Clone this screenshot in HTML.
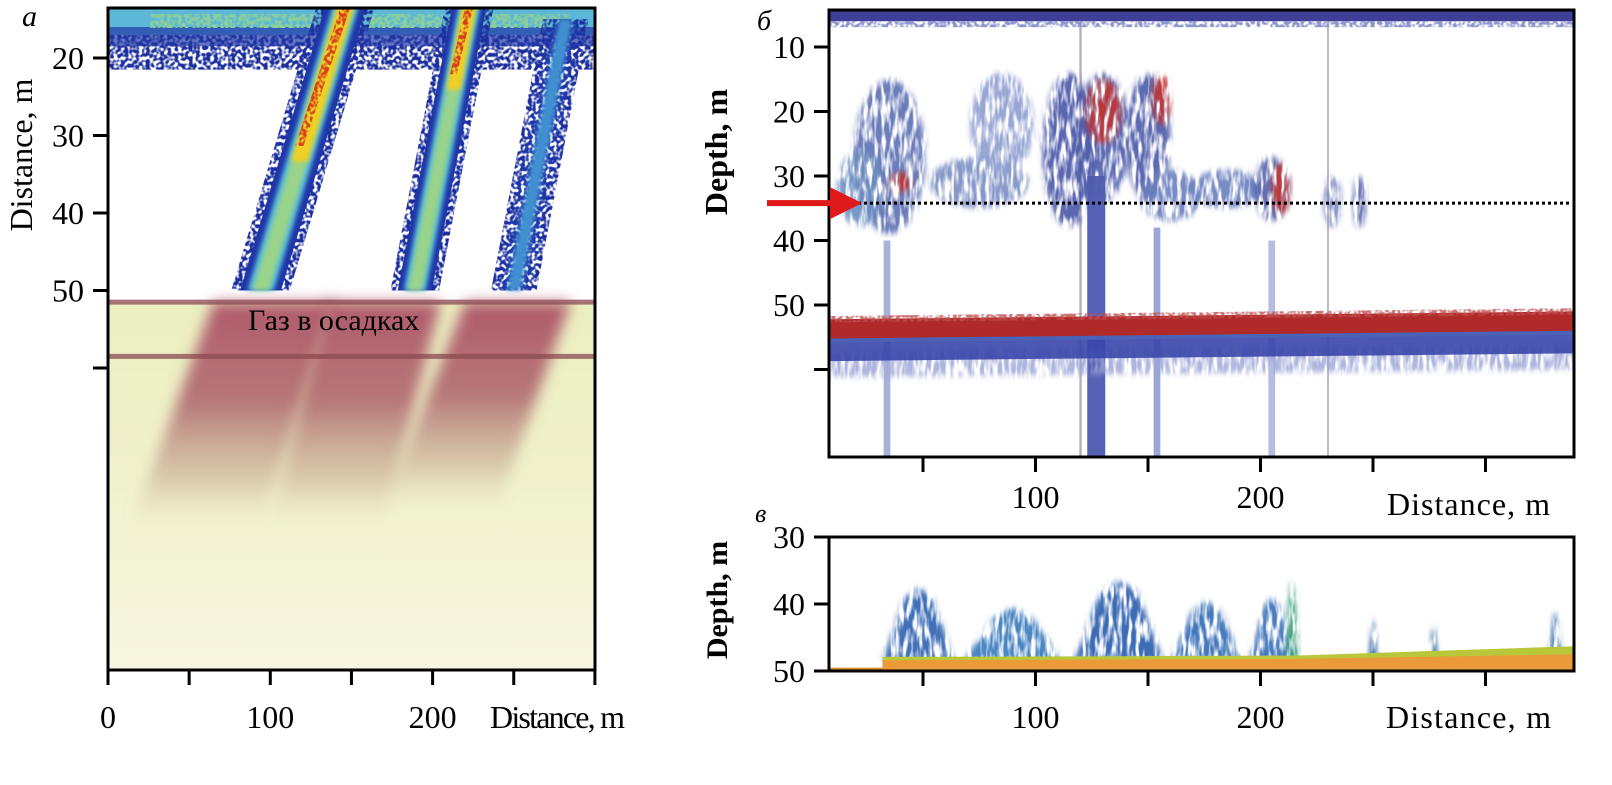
<!DOCTYPE html>
<html><head><meta charset="utf-8"><title>Echograms a, б, в</title>
<style>
html,body{margin:0;padding:0;background:#fff;}
svg{display:block;font-family:"Liberation Serif","Noto Serif CJK SC",serif;}
</style></head>
<body>
<svg id="fig" width="1612" height="785" viewBox="0 0 1612 785" xmlns="http://www.w3.org/2000/svg">
<defs>
  <filter id="speck" x="-10%" y="-10%" width="120%" height="120%">
    <feTurbulence type="fractalNoise" baseFrequency="0.28" numOctaves="1" seed="4" result="n"/>
    <feColorMatrix in="n" type="matrix" values="0 0 0 0 0 0 0 0 0 0 0 0 0 0 0 5 0 0 0 -1.9" result="m"/>
    <feComposite in="SourceGraphic" in2="m" operator="in"/>
  </filter>
  <filter id="haze" x="-20%" y="-20%" width="140%" height="140%">
    <feGaussianBlur stdDeviation="3" result="b"/>
    <feTurbulence type="fractalNoise" baseFrequency="0.22 0.05" numOctaves="2" seed="9" result="n"/>
    <feColorMatrix in="n" type="matrix" values="0 0 0 0 0 0 0 0 0 0 0 0 0 0 0 3.5 0 0 0 -1.1" result="m"/>
    <feComposite in="b" in2="m" operator="in"/>
  </filter>
  <filter id="soft" x="-20%" y="-20%" width="140%" height="140%"><feGaussianBlur stdDeviation="7"/></filter>
  <filter id="soft2" x="-20%" y="-20%" width="140%" height="140%"><feGaussianBlur stdDeviation="2"/></filter>
  <linearGradient id="sedGrad" x1="0" y1="0" x2="0" y2="1">
    <stop offset="0" stop-color="#ecefc0"/><stop offset="0.5" stop-color="#f0f1cc"/><stop offset="1" stop-color="#f8f6e2"/>
  </linearGradient>
  <linearGradient id="pinkGrad" x1="0" y1="0" x2="0" y2="1">
    <stop offset="0" stop-color="#b05a6c" stop-opacity="1"/><stop offset="0.45" stop-color="#b06a70" stop-opacity="0.9"/><stop offset="0.8" stop-color="#b89080" stop-opacity="0.4"/><stop offset="1" stop-color="#cfc09a" stop-opacity="0"/>
  </linearGradient>
  <clipPath id="clipA"><rect x="108" y="8" width="487" height="662"/></clipPath>
  <clipPath id="clipB"><rect x="829" y="10" width="745" height="447"/></clipPath>
  <clipPath id="clipC"><rect x="829" y="537" width="745" height="134"/></clipPath>
</defs>

<!-- PANEL A -->
<g>
  <g clip-path="url(#clipA)">
    <rect x="108" y="8" width="487" height="662" fill="#fff"/>
    <rect id="aSed" fill="url(#sedGrad)"/>
    <g id="aGas"></g>
    <g id="aLines"></g>
    <g id="aTop"></g>
    <g id="aPlumes"></g>
  </g>
  <rect x="108" y="8" width="487" height="662" fill="none" stroke="#000" stroke-width="3"/>
  <g id="aAxes"></g>
  <text x="248" y="330" font-size="30" fill="#000">Газ в осадках</text>
  <text x="22" y="26" font-size="30" font-style="italic">a</text>
  <text transform="translate(32,155) rotate(-90)" text-anchor="middle" font-size="32">Distance, m</text>
  <text x="490" y="728" font-size="32" textLength="135">Distance, m</text>
</g>

<!-- PANEL B -->
<g>
  <g clip-path="url(#clipB)">
    <rect x="829" y="10" width="745" height="447" fill="#fff"/>
    <g id="bCols"></g>
    <g id="bSchools"></g>
    <g id="bBottom"></g>
    <g id="bTop"></g>
    <line id="bDots" stroke="#000" stroke-width="3" stroke-dasharray="3,3"/>
  </g>
  <rect x="829" y="10" width="745" height="447" fill="none" stroke="#000" stroke-width="3"/>
  <g id="bAxes"></g>
  <g id="bArrow"></g>
  <text x="757" y="30" font-size="28" font-style="italic">б</text>
  <text transform="translate(727,152) rotate(-90)" text-anchor="middle" font-size="32" font-weight="bold">Depth, m</text>
  <text x="1387" y="515" font-size="32" textLength="163">Distance, m</text>
</g>

<!-- PANEL C -->
<g>
  <g clip-path="url(#clipC)">
    <rect x="829" y="537" width="745" height="134" fill="#fff"/>
    <g id="cSchools"></g>
    <g id="cBottom"></g>
  </g>
  <rect x="829" y="537" width="745" height="134" fill="none" stroke="#000" stroke-width="3"/>
  <g id="cAxes"></g>
  <text x="755" y="522" font-size="26" font-style="italic">в</text>
  <text transform="translate(727,600) rotate(-90)" text-anchor="middle" font-size="30" font-weight="bold">Depth, m</text>
  <text x="1386" y="728" font-size="32" textLength="165">Distance, m</text>
</g>
</svg>

<script>
// ---------- data ----------
const aXTicks = [0, 50, 100, 150, 200, 250, 300];
const aXLabels = ["0", "", "100", "", "200", "", ""];
const aYTicks = [20, 30, 40, 50, 60];
const aYLabels = ["20", "30", "40", "50", ""];
const aSeabed = 51.5;
const aReflectors = [51.5, 58.5];
// plumes: top distance, top depth, bottom distance, bottom depth, width (m)
const aPlumeTopX = [147, 223, 282];
const aPlumeTopD = [13, 13, 15];
const aPlumeBotX = [94, 189, 250];
const aPlumeBotD = [50, 50, 50];
const aPlumeWidth = [36, 30, 28];
const aPlumeCore = [1, 0.6, 0];
// gas in sediment lobes
const aGasTopL = [65, 135, 220];
const aGasTopR = [140, 205, 285];
const aGasBotL = [15, 100, 170];
const aGasBotR = [95, 170, 240];
const aGasBotD = [80, 80, 78];

const bXTicks = [50, 100, 150, 200, 250, 300];
const bXLabels = ["", "100", "", "200", "", ""];
const bYTicks = [10, 20, 30, 40, 50, 60];
const bYLabels = ["10", "20", "30", "40", "50", ""];
const bRefDepth = 34.2;
const bBottomDepthL = 52.2, bBottomDepthR = 51.0;
const bSchX = [35, 22, 75, 85, 115, 130, 150, 160, 185, 205, 232, 244];
const bSchD = [27, 32, 31, 22, 26, 24, 24, 33, 32, 32, 34, 34];
const bSchW = [16, 10, 22, 14, 12, 12, 10, 14, 16, 8, 4, 3];
const bSchH = [12, 6, 4, 8, 12, 10, 10, 4, 3, 5, 4, 4];
const bSchC = ["#5b6fb3", "#6b8ec0", "#7c8fc4", "#8d9dd0", "#4a56a8", "#4f5eae", "#4b5aa9", "#6b7fbf", "#6b7fbf", "#5763ad", "#7a88c2", "#5a68b0"];
const bRedX = [130, 156, 209, 40];
const bRedD = [20, 18, 32, 31];
const bRedW = [8, 4, 4, 5];
const bRedH = [5, 4, 4, 1.5];
const bColX = [127, 34, 154, 205, 120, 230];
const bColW = [8, 3, 3, 3, 1, 0.6];
const bColTop = [30, 40, 38, 40, 5, 5];
const bColC = ["#3a45a8", "#9aa5d4", "#8b98cf", "#aab2d8", "#a0a0a8", "#8c8c94"];

const cYTicks = [30, 40, 50];
const cYLabels = ["30", "40", "50"];
const cXTicks = [50, 100, 150, 200, 250, 300];
const cXLabels = ["", "100", "", "200", "", ""];
const cSchX = [48, 90, 137, 176, 205, 214, 250, 277, 331];
const cSchTop = [37.5, 40.5, 36.5, 39.5, 39, 36.5, 42, 43, 41];
const cSchW = [16, 22, 20, 16, 10, 3, 2, 2, 3];
const cSchC = ["#3f6fb8", "#4a86c2", "#3e6cb6", "#4479bd", "#4a7cc0", "#3aa07a", "#3a6ca8", "#3a6ca8", "#4a7cb0"];
const cSeabedX = [32, 215, 339];
const cSeabedD = [47.9, 47.7, 46.3];

// ---------- scales ----------
const NS = "http://www.w3.org/2000/svg";
const ax = d => 108 + d * 1.623;
const ay = d => 58 + (d - 20) * 7.75;
const bx = d => 1373 + (d - 250) * 2.25;
const by = d => 176 + (d - 30) * 6.45;
const cx = bx;
const cy = d => 537 + (d - 30) * 6.7;

function mk(parent, tag, attrs) {
  const e = document.createElementNS(NS, tag);
  for (const k in attrs) e.setAttribute(k, attrs[k]);
  parent.appendChild(e);
  return e;
}
function poly(pts){ return pts.map(p => p[0].toFixed(1) + "," + p[1].toFixed(1)).join(" "); }

// ---------- axes ----------
function axes(gid, xt, xl, xs, yt, yl, ys, bottom, left, xLabY) {
  const g = document.getElementById(gid);
  xt.forEach((t, i) => {
    const tk = mk(g, "line", {x1: xs(t), x2: xs(t), y1: bottom, y2: bottom + 15, stroke: "#000", "stroke-width": 3});
    
    
    if (xl[i]) {
      const tx = mk(g, "text", {x: xs(t), y: xLabY, "text-anchor": "middle", "font-size": 32});
      tx.textContent = xl[i];
      
      
    }
  });
  yt.forEach((t, i) => {
    const tk = mk(g, "line", {x1: left - 15, x2: left, y1: ys(t), y2: ys(t), stroke: "#000", "stroke-width": 3});
    
    
    if (yl[i]) {
      const tx = mk(g, "text", {x: left - 24, y: ys(t) + 11, "text-anchor": "end", "font-size": 32});
      tx.textContent = yl[i];
      
      
    }
  });
}
axes("aAxes", aXTicks, aXLabels, ax, aYTicks, aYLabels, ay, 670, 108, 728);
axes("bAxes", bXTicks, bXLabels, bx, bYTicks, bYLabels, by, 457, 829, 508);
axes("cAxes", cXTicks, cXLabels, cx, cYTicks, cYLabels, cy, 671, 829, 728);

// ---------- panel a ----------
const sed = document.getElementById("aSed");
sed.setAttribute("x", 108); sed.setAttribute("y", ay(aSeabed)); sed.setAttribute("width", 487); sed.setAttribute("height", 670 - ay(aSeabed));
const gGas = document.getElementById("aGas");
aGasTopL.forEach((_, i) => {
  const p = mk(gGas, "polygon", {points: poly([[ax(aGasTopL[i]), ay(aSeabed)], [ax(aGasTopR[i]), ay(aSeabed)], [ax(aGasBotR[i]), ay(aGasBotD[i])], [ax(aGasBotL[i]), ay(aGasBotD[i])]]), fill: "url(#pinkGrad)", filter: "url(#soft)"});
  
  
});
const gL = document.getElementById("aLines");
aReflectors.forEach(d => {
  const l = mk(gL, "rect", {x: 108, y: ay(d) - 2.5, width: 487, height: 5, fill: "#8a4a50", opacity: 0.75});
  
  
});
const gT = document.getElementById("aTop");
const t1 = mk(gT, "rect", {x: 108, y: 8, width: 487, height: ay(17) - 8, fill: "#5cb8d6"});


const t2 = mk(gT, "rect", {x: 108, y: ay(17), width: 487, height: ay(21.5) - ay(17), fill: "#1a2e9c", filter: "url(#speck)"});


const t3 = mk(gT, "rect", {x: 108, y: ay(16), width: 487, height: ay(18.5) - ay(16), fill: "#2238a6", opacity: 0.7});


const t4 = mk(gT, "rect", {x: 150, y: 14, width: 420, height: 14, fill: "#8ccf9a", filter: "url(#speck)"});



const gP = document.getElementById("aPlumes");
function band(i, frac, dx) {
  const w = aPlumeWidth[i] * frac / 2;
  return poly([[ax(aPlumeTopX[i] - w + dx), ay(aPlumeTopD[i])], [ax(aPlumeTopX[i] + w + dx), ay(aPlumeTopD[i])],
               [ax(aPlumeBotX[i] + w + dx), ay(aPlumeBotD[i])], [ax(aPlumeBotX[i] - w + dx), ay(aPlumeBotD[i])]]);
}
aPlumeTopX.forEach((_, i) => {
  const p0 = mk(gP, "polygon", {points: band(i, 1.0, 0), fill: "#1b2f9f", filter: "url(#speck)"});
  
  
  const p1 = mk(gP, "polygon", {points: band(i, 0.7, 0), fill: "#1e36a8", filter: i === 2 ? "url(#speck)" : null});
  
  
  const p2 = mk(gP, "polygon", {points: band(i, i === 2 ? 0.3 : 0.45, 0), fill: i === 2 ? "#3f8fd0" : "#58bcd8", filter: "url(#soft2)"});
  
  
  if (aPlumeCore[i] > 0) {
    const p3 = mk(gP, "polygon", {points: band(i, 0.28, 0), fill: "#9ad48a", filter: "url(#soft2)"});
    
    
    const w = aPlumeWidth[i] * 0.14;
    const midD = aPlumeTopD[i] + (aPlumeBotD[i] - aPlumeTopD[i]) * (i === 0 ? 0.55 : 0.3);
    const midX = aPlumeTopX[i] + (aPlumeBotX[i] - aPlumeTopX[i]) * (midD - aPlumeTopD[i]) / (aPlumeBotD[i] - aPlumeTopD[i]);
    const p4 = mk(gP, "polygon", {points: poly([[ax(aPlumeTopX[i] - w), ay(aPlumeTopD[i])], [ax(aPlumeTopX[i] + w), ay(aPlumeTopD[i])], [ax(midX + w), ay(midD)], [ax(midX - w), ay(midD)]]), fill: "#f0d020", filter: "url(#soft2)"});
    
    
    const p5 = mk(gP, "polygon", {points: poly([[ax(aPlumeTopX[i] - w * 0.6), ay(aPlumeTopD[i])], [ax(aPlumeTopX[i] + w * 0.6), ay(aPlumeTopD[i])], [ax(midX + w * 0.5), ay(midD - 2)], [ax(midX - w * 0.5), ay(midD - 2)]]), fill: "#d8401c", filter: "url(#speck)"});
    
    
  }
});

// ---------- panel b ----------
const gCols = document.getElementById("bCols");
bColX.forEach((d, i) => {
  const r = mk(gCols, "rect", {x: bx(d - bColW[i] / 2), y: by(bColTop[i]), width: bColW[i] * 2.25, height: 457 - by(bColTop[i]), fill: bColC[i], opacity: 0.85});
  
  
});
const gS = document.getElementById("bSchools");
bSchX.forEach((d, i) => {
  const e = mk(gS, "ellipse", {cx: bx(d), cy: by(bSchD[i]), rx: bSchW[i] * 2.25, ry: bSchH[i] * 6.45, fill: bSchC[i], filter: "url(#haze)", opacity: 0.9});
  
  
});
bRedX.forEach((d, i) => {
  const e = mk(gS, "ellipse", {cx: bx(d), cy: by(bRedD[i]), rx: bRedW[i] * 2.25, ry: bRedH[i] * 6.45, fill: "#c8302a", filter: "url(#haze)", opacity: 0.9});
  
  
});
const gB = document.getElementById("bBottom");
function slopeBand(d0L, d0R, d1L, d1R, fill, flt, name, op) {
  const p = mk(gB, "polygon", {points: poly([[829, by(d0L)], [1574, by(d0R)], [1574, by(d1R)], [829, by(d1L)]]), fill: fill, opacity: op});
  if (flt) p.setAttribute("filter", flt);
  
  
}
slopeBand(bBottomDepthL + 5, bBottomDepthR + 5, bBottomDepthL + 9, bBottomDepthR + 9, "#9aa3d6", "url(#haze)", "sub-bottom-haze", 0.8);
slopeBand(bBottomDepthL + 3, bBottomDepthR + 3, bBottomDepthL + 6.5, bBottomDepthR + 6.5, "#3a46ab", null, "sub-bottom-blue", 0.9);
slopeBand(bBottomDepthL + 2.6, bBottomDepthR + 2.6, bBottomDepthL + 3.6, bBottomDepthR + 3.6, "#4b62b6", null, "seabed-transition", 1);
slopeBand(bBottomDepthL, bBottomDepthR, bBottomDepthL + 3, bBottomDepthR + 3, "#b12a2a", null, "seabed-red", 1);
slopeBand(bBottomDepthL - 0.5, bBottomDepthR - 0.5, bBottomDepthL + 0.5, bBottomDepthR + 0.5, "#c05050", "url(#speck)", "seabed-edge", 0.8);
const gBT = document.getElementById("bTop");
const s1 = mk(gBT, "rect", {x: 829, y: 10, width: 745, height: by(6) - 10, fill: "#3f3f9a"});


const s2 = mk(gBT, "rect", {x: 829, y: by(6), width: 745, height: 6, fill: "#8c96cc", filter: "url(#speck)"});


const dl = document.getElementById("bDots");
dl.setAttribute("x1", 834); dl.setAttribute("x2", 1572); dl.setAttribute("y1", by(bRefDepth)); dl.setAttribute("y2", by(bRefDepth));
const ga = document.getElementById("bArrow");
const ay0 = by(bRefDepth);
const ar1 = mk(ga, "rect", {x: 767, y: ay0 - 3, width: 70, height: 6, fill: "#e01a1a"});


const ar2 = mk(ga, "polygon", {points: poly([[830, ay0 - 16], [862, ay0], [830, ay0 + 16]]), fill: "#e01a1a"});



// ---------- panel c ----------
const gCS = document.getElementById("cSchools");
cSchX.forEach((d, i) => {
  const top = cy(cSchTop[i]), bot = cy(48.5);
  const p = mk(gCS, "polygon", {points: poly([[cx(d - cSchW[i]), bot], [cx(d - cSchW[i] * 0.4), top + 10], [cx(d), top], [cx(d + cSchW[i] * 0.4), top + 10], [cx(d + cSchW[i]), bot]]), fill: cSchC[i], filter: "url(#haze)"});
  
  
});
const gCB = document.getElementById("cBottom");
const seabedTop = cSeabedX.map((d, i) => [cx(d), cy(cSeabedD[i])]);
const yel = mk(gCB, "polygon", {points: poly([[cx(cSeabedX[0]), 671]].concat(seabedTop).concat([[1574, 671]])), fill: "#b8c83a"});


const orTop = cSeabedX.map((d, i) => [cx(d), cy(cSeabedD[i] + (i === 2 ? 1.2 : 0.5))]);
const org = mk(gCB, "polygon", {points: poly([[cx(cSeabedX[0]), 671]].concat(orTop).concat([[1574, 671]])), fill: "#eb9a3a"});


const org2 = mk(gCB, "rect", {x: 829, y: cy(49.5), width: cx(cSeabedX[0]) - 829, height: 671 - cy(49.5), fill: "#d98a35"});


</script>
</body></html>
